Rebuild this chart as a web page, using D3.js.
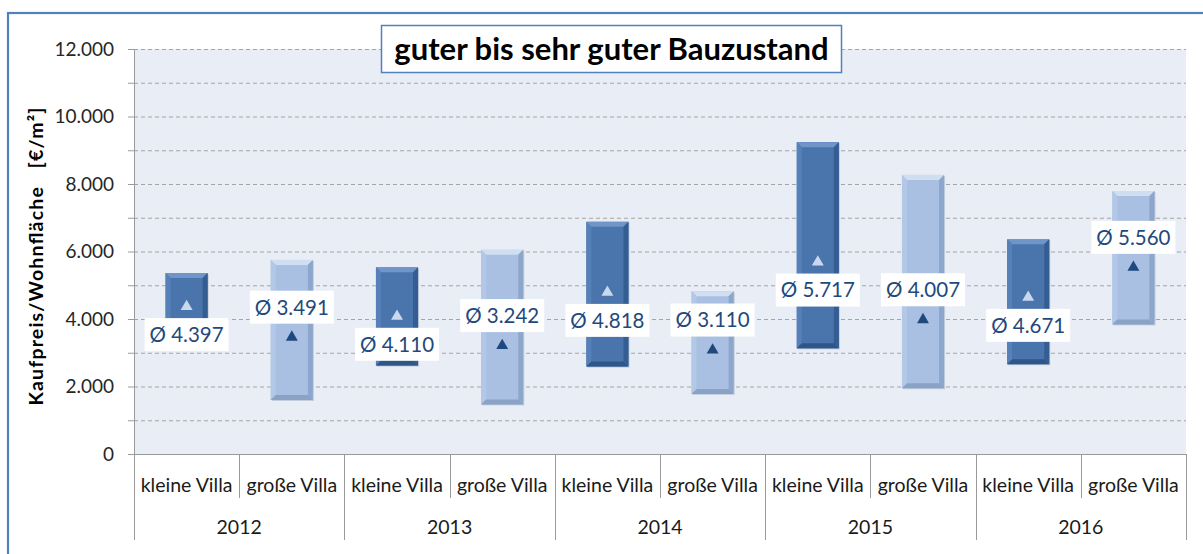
<!DOCTYPE html>
<html>
<head>
<meta charset="utf-8">
<script src="https://cdn.jsdelivr.net/npm/d3@7"></script>
<style>
  html, body { margin: 0; padding: 0; background: #ffffff; }
  svg { display: block; }
  text { font-family: Lato, "Open Sans", sans-serif; }
</style>
</head>
<body>
<svg id="chart" width="1203" height="554"></svg>
<script>
// Price ranges per year and villa type (€/m² living area)
const years = ["2012", "2013", "2014", "2015", "2016"];
const villaTypes = ["kleine Villa", "große Villa"];
const minPrice = [3200, 1600, 2620, 1470, 2590, 1780, 3130, 1950, 2660, 3840];
const maxPrice = [5360, 5750, 5530, 6050, 6880, 4820, 9240, 8270, 6360, 7790];
const avgPrice = [4397, 3491, 4110, 3242, 4818, 3110, 5717, 4007, 4671, 5560];
const yTicks = [0, 2000, 4000, 6000, 8000, 10000, 12000];
const titleText = "guter bis sehr guter Bauzustand";
const yAxisTitle = "Kaufpreis/Wohnfläche   [€/m²]";

const rows = [];
years.forEach((yr, i) => villaTypes.forEach((t, j) => {
  const k = i * villaTypes.length + j;
  rows.push({ key: yr + "|" + t, year: yr, type: t, typeIndex: j,
              min: minPrice[k], max: maxPrice[k], avg: avgPrice[k] });
}));

const svg = d3.select("#chart");
const W = 1203, H = 554;
const plot = { left: 134, right: 1186, top: 49, bottom: 454 };

const fmt = d3.formatLocale({ decimal: ",", thousands: ".", grouping: [3], currency: ["", "€"] }).format(",.0f");

const x = d3.scaleBand().domain(rows.map(d => d.key))
  .range([plot.left, plot.right]).paddingInner(0.6).paddingOuter(0.3);
const xOuter = d3.scaleBand().domain(rows.map(d => d.key))
  .range([plot.left, plot.right]).padding(0);
const y = d3.scaleLinear().domain([0, 12000]).range([plot.bottom, plot.top]);

// outer frame
svg.append("rect").attr("x", 8).attr("y", 13).attr("width", W).attr("height", H)
  .attr("fill", "none").attr("stroke", "#4f81bd").attr("stroke-width", 2.2);

// plot background
svg.append("rect").attr("x", plot.left).attr("y", plot.top)
  .attr("width", plot.right - plot.left).attr("height", plot.bottom - plot.top)
  .attr("fill", "#e9edf5");

// dashed gridlines every 1.000
const gridVals = d3.range(1000, 12001, 1000);
svg.append("g").selectAll("line").data(gridVals).join("line")
  .attr("x1", plot.left).attr("x2", plot.right)
  .attr("y1", d => y(d) + 0.5).attr("y2", d => y(d) + 0.5)
  .attr("stroke", "#a5a5a5").attr("stroke-width", 1).attr("stroke-dasharray", "4,3");

// y axis
const yAxis = d3.axisLeft(y).tickValues(d3.range(0, 12001, 1000))
  .tickSize(6).tickPadding(14)
  .tickFormat(d => yTicks.includes(d) ? fmt(d) : "");
const gy = svg.append("g").attr("transform", `translate(${plot.left},0)`).call(yAxis);
gy.select(".domain").attr("stroke", "#9a9a9a");
gy.selectAll(".tick line").attr("stroke", "#9a9a9a");
gy.selectAll(".tick text").attr("font-size", 19).attr("fill", "#262626")
  .style("font-family", "Lato, sans-serif");

// y axis title
svg.append("text")
  .attr("transform", `translate(43,${(plot.top + plot.bottom) / 2 + 5}) rotate(-90)`)
  .attr("text-anchor", "middle")
  .attr("font-size", 19.5).attr("font-weight", "bold").attr("fill", "#000")
  .attr("textLength", 298).attr("lengthAdjust", "spacing")
  .style("white-space", "pre")
  .text(yAxisTitle);

// category axis: baseline, separators, labels
const axisG = svg.append("g");
axisG.append("line").attr("x1", plot.left).attr("x2", plot.right)
  .attr("y1", plot.bottom + 0.5).attr("y2", plot.bottom + 0.5).attr("stroke", "#9a9a9a");
const sepData = rows.map((d, i) => ({ x: xOuter(d.key), long: i % 2 === 0 }))
  .concat([{ x: plot.right, long: true }]);
axisG.selectAll("line.sep").data(sepData).join("line").attr("class", "sep")
  .attr("x1", d => Math.round(d.x) + 0.5).attr("x2", d => Math.round(d.x) + 0.5)
  .attr("y1", plot.bottom).attr("y2", d => d.long ? 540 : 498)
  .attr("stroke", "#9a9a9a");
axisG.selectAll("text.cat").data(rows).join("text").attr("class", "cat")
  .attr("x", d => xOuter(d.key) + xOuter.bandwidth() / 2)
  .attr("y", 492).attr("text-anchor", "middle")
  .attr("font-size", 19.5).attr("fill", "#1a1a1a")
  .text(d => d.type);
axisG.selectAll("text.year").data(years).join("text").attr("class", "year")
  .attr("x", yr => xOuter(yr + "|" + villaTypes[0]) + xOuter.bandwidth())
  .attr("y", 534).attr("text-anchor", "middle")
  .attr("font-size", 19.5).attr("fill", "#1a1a1a")
  .text(yr => yr);

// bevelled floating bars (min to max)
const palette = [
  { base: "#4a74ac", top: "#6f95c9", left: "#5580b8", right: "#345d92", bottom: "#2f5688", mark: "#c9d8ee" },
  { base: "#a9c0e2", top: "#d0def2", left: "#b3c8e6", right: "#8da6cb", bottom: "#8aa2c6", mark: "#1f497d" }
];
const bev = 5;
const barG = svg.append("g");
rows.forEach(d => {
  const c = palette[d.typeIndex];
  const x0 = x(d.key), x1 = x0 + x.bandwidth();
  const y0 = y(d.max), y1 = y(d.min);
  const g = barG.append("g");
  g.append("rect").attr("x", x0 + 1).attr("y", y0 + 1).attr("width", x1 - x0).attr("height", y1 - y0)
    .attr("fill", "#7f8fa8").attr("opacity", 0.35);
  g.append("rect").attr("x", x0).attr("y", y0).attr("width", x1 - x0).attr("height", y1 - y0)
    .attr("fill", c.base);
  const poly = pts => pts.map(p => p.join(",")).join(" ");
  g.append("polygon").attr("fill", c.top)
    .attr("points", poly([[x0, y0], [x1, y0], [x1 - bev, y0 + bev], [x0 + bev, y0 + bev]]));
  g.append("polygon").attr("fill", c.left)
    .attr("points", poly([[x0, y0], [x0 + bev, y0 + bev], [x0 + bev, y1 - bev], [x0, y1]]));
  g.append("polygon").attr("fill", c.right)
    .attr("points", poly([[x1, y0], [x1, y1], [x1 - bev, y1 - bev], [x1 - bev, y0 + bev]]));
  g.append("polygon").attr("fill", c.bottom)
    .attr("points", poly([[x0, y1], [x1, y1], [x1 - bev, y1 - bev], [x0 + bev, y1 - bev]]));
});

// average markers
const tri = d3.symbol().type(d3.symbolTriangle).size(62);
barG.selectAll("path.avg").data(rows).join("path").attr("class", "avg")
  .attr("d", tri)
  .attr("transform", d => `translate(${x(d.key) + x.bandwidth() / 2},${y(d.avg) + 1})`)
  .attr("fill", d => palette[d.typeIndex].mark);

// average labels: below the marker for small villas, above for large ones
const labelShift = [29, -29];
const lab = svg.append("g").selectAll("g").data(rows).join("g")
  .attr("transform", d => `translate(${x(d.key) + x.bandwidth() / 2},${y(d.avg) + labelShift[d.typeIndex]})`);
lab.append("rect").attr("x", -42).attr("y", -16.5).attr("width", 84).attr("height", 33).attr("fill", "#ffffff");
lab.append("text").attr("text-anchor", "middle").attr("dy", "0.36em")
  .attr("font-size", 20.5).attr("fill", "#1f497d")
  .text(d => "Ø " + fmt(d.avg));

// title box
const tg = svg.append("g");
tg.append("rect").attr("x", 381.5).attr("y", 25.5).attr("width", 460).attr("height", 47)
  .attr("fill", "#ffffff").attr("stroke", "#4f81bd").attr("stroke-width", 1.5);
tg.append("text").attr("x", 611.5).attr("y", 49).attr("dy", "0.36em").attr("text-anchor", "middle")
  .attr("font-size", 31).attr("font-weight", "bold").attr("fill", "#000")
  .text(titleText);
</script>
</body>
</html>
